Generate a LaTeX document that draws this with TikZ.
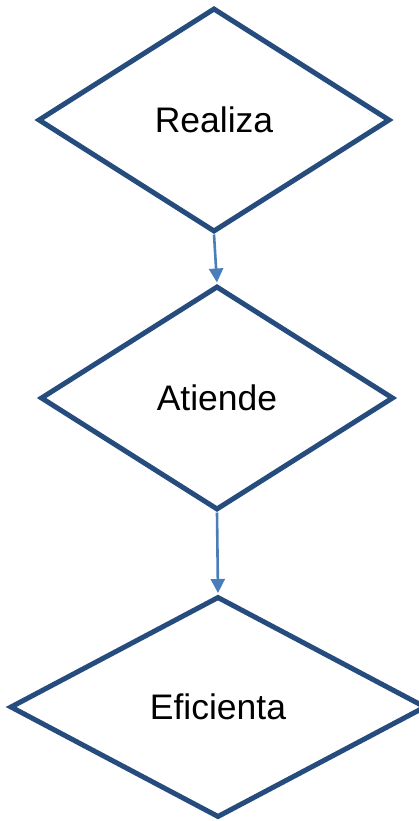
\documentclass[tikz,border=0pt]{standalone}
\usepackage{fontspec}
\setmainfont{Liberation Sans}
\usepackage{xcolor}
\definecolor{DiamondBlue}{HTML}{264B7D}
\definecolor{ArrowBlue}{HTML}{4A7EBB}
\usetikzlibrary{arrows.meta,shapes.geometric}
\tikzset{
  flowdiamond/.style={
    diamond,
    draw=DiamondBlue,
    line width=5pt,
    inner sep=0pt,
    font=\fontsize{35.5}{42}\selectfont
  },
  flowline/.style={
    draw=ArrowBlue,
    -{Triangle[length=14pt,width=14pt]},
    line width=2.6pt,
    shorten >=1pt
  }
}
\begin{document}
\begin{tikzpicture}[x=1pt,y=-1pt]
  \useasboundingbox (0,0) rectangle (419,821);
  \node[flowdiamond,minimum width=352pt,minimum height=224pt] (realiza) at (214,120) {Realiza};
  \node[flowdiamond,minimum width=353pt,minimum height=224pt] (atiende) at (217,398) {Atiende};
  \node[flowdiamond,minimum width=416pt,minimum height=221pt] (eficienta) at (218,707) {Eficienta};
  \draw[flowline] (realiza.south) -- (atiende.north);
  \draw[flowline] (atiende.south) -- (eficienta.north);
\end{tikzpicture}
\end{document}
